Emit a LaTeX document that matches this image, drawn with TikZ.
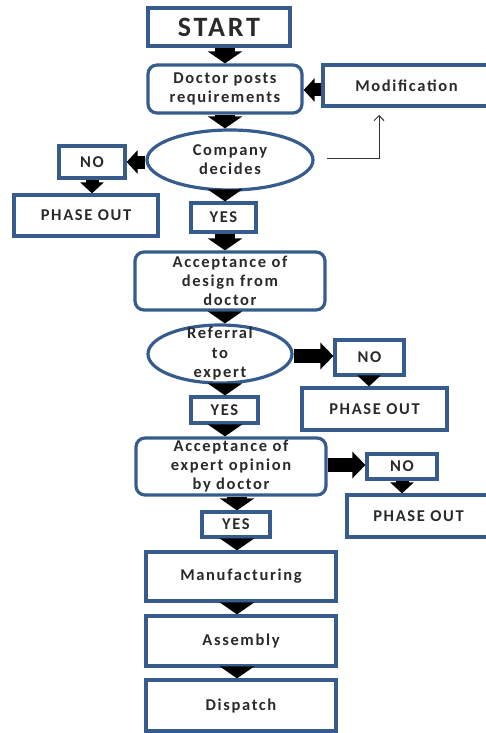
\documentclass[tikz,border=0pt]{standalone}
\usepackage{fontspec}
\setmainfont{Carlito}[LetterSpace=10]
\usetikzlibrary{arrows.meta,shapes.geometric,calc}
\definecolor{bord}{HTML}{365C8E}
\definecolor{txt}{HTML}{2A2A2A}
\begin{document}
\begin{tikzpicture}[x=1pt,y=-1pt,
  box/.style={draw=bord,line width=3.2pt,fill=white,inner sep=0pt,align=center,
    text=txt,font=\bfseries\fontsize{16.5}{19}\selectfont},
  rbox/.style={box,rounded corners=9pt},
  ebox/.style={box,ellipse},
  blk/.style={line width=20pt,black,-{Triangle[width=34pt,length=12pt]}},
  blkm/.style={line width=14pt,black,-{Triangle[width=26pt,length=13pt]}},
  blks/.style={line width=13pt,black,-{Triangle[width=23pt,length=11pt]}},
  thinarr/.style={line width=1pt,black!80,-{Straight Barb[length=5pt,width=10pt]}}]
\useasboundingbox (0,0) rectangle (486,733);
% columns / rows
\coordinate (ca) at (225,0);
\coordinate (cb) at (237,0);
\coordinate (r1) at (0,90);
\coordinate (r2) at (0,162);
\coordinate (r3) at (0,356);
\coordinate (r4) at (0,465);
\coordinate (c1) at (92,0);
\coordinate (c2) at (369,0);
\coordinate (c3) at (402,0);
% nodes
\node[box,minimum width=142pt,minimum height=38pt,font=\bfseries\fontsize{28}{30}\selectfont] (start) at (219,27) {START};
\node[rbox,minimum width=154pt,minimum height=48pt] (doc) at (225,89) {Doctor posts\\requirements};
\node[box,minimum width=167pt,minimum height=41pt] (mod) at (406.5,85.5) {Modification};
\node[ebox,minimum width=166pt,minimum height=60pt] (comp) at (230,160) {Company\\decides};
\node[box,minimum width=66pt,minimum height=32pt] (no1) at (92,162) {NO};
\node[box,minimum width=144pt,minimum height=41pt] (po1) at (86,215.5) {PHASE OUT};
\node[box,minimum width=65pt,minimum height=29pt] (yes1) at (223.5,217.5) {YES};
\node[rbox,minimum width=190pt,minimum height=58pt] (acc1) at (230,281) {Acceptance of\\design from\\doctor};
\node[ebox,minimum width=144pt,minimum height=58pt] (ref) at (220,354) {};
\node[text=txt,align=center,font=\bfseries\fontsize{16.5}{19.5}\selectfont] (reftxt) at (ref.center) {Referral\\to\\expert};
\node[box,minimum width=69pt,minimum height=35pt] (no2) at (369.5,357.5) {NO};
\node[box,minimum width=145pt,minimum height=42pt] (po2) at (374.5,409) {PHASE OUT};
\node[box,minimum width=67pt,minimum height=26pt] (yes2) at (224.5,410) {YES};
\node[rbox,minimum width=190pt,minimum height=57pt] (acc2) at (231,466.5) {Acceptance of\\expert opinion\\by doctor};
\node[box,minimum width=70pt,minimum height=25pt] (no3) at (402,466.5) {NO};
\node[box,minimum width=143pt,minimum height=42pt] (po3) at (418.5,516) {PHASE OUT};
\node[box,minimum width=68pt,minimum height=25pt] (yes3) at (236,524.5) {YES};
\node[box,minimum width=190pt,minimum height=49pt] (manu) at (241,576.5) {Manufacturing};
\node[box,minimum width=190pt,minimum height=50pt] (asm) at (241,641) {Assembly};
\node[box,minimum width=190pt,minimum height=51pt] (disp) at (241,705.5) {Dispatch};
\coordinate (modtip) at (379,115);
% vertical block arrows, main column
\draw[blk] (start.south -| ca) -- (doc.north -| ca);
\draw[blk] (doc.south -| ca) -- (comp.north -| ca);
\draw[blk] (comp.south -| ca) -- (yes1.north -| ca);
\draw[blk] (yes1.south -| ca) -- (acc1.north -| ca);
\draw[blk] (acc1.south -| ca) -- (ref.north -| ca);
\draw[blk] (ref.south -| ca) -- (yes2.north -| ca);
\draw[blk] (yes2.south -| ca) -- (acc2.north -| ca);
\draw[blk] (acc2.south -| cb) -- (yes3.north -| cb);
\draw[blk] (yes3.south -| cb) -- (manu.north -| cb);
\draw[blk] (manu.south -| cb) -- (asm.north -| cb);
\draw[blk] (asm.south -| cb) -- (disp.north -| cb);
% side arrows
\draw[blks] (mod.west |- r1) -- (doc.east |- r1);
\draw[blks] (comp.west |- r2) -- (no1.east |- r2);
\draw[blks] (no1.south -| c1) -- (po1.north -| c1);
\draw[blkm] (ref.east |- r3) -- (no2.west |- r3);
\draw[blks] (no2.south -| c2) -- (po2.north -| c2);
\draw[blkm] (acc2.east |- r4) -- (no3.west |- r4);
\draw[blks] (no3.south -| c3) -- (po3.north -| c3);
% modification feedback
\draw[thinarr] ([xshift=12pt]comp.east |- 0,158) -| (modtip);
\end{tikzpicture}
\end{document}
